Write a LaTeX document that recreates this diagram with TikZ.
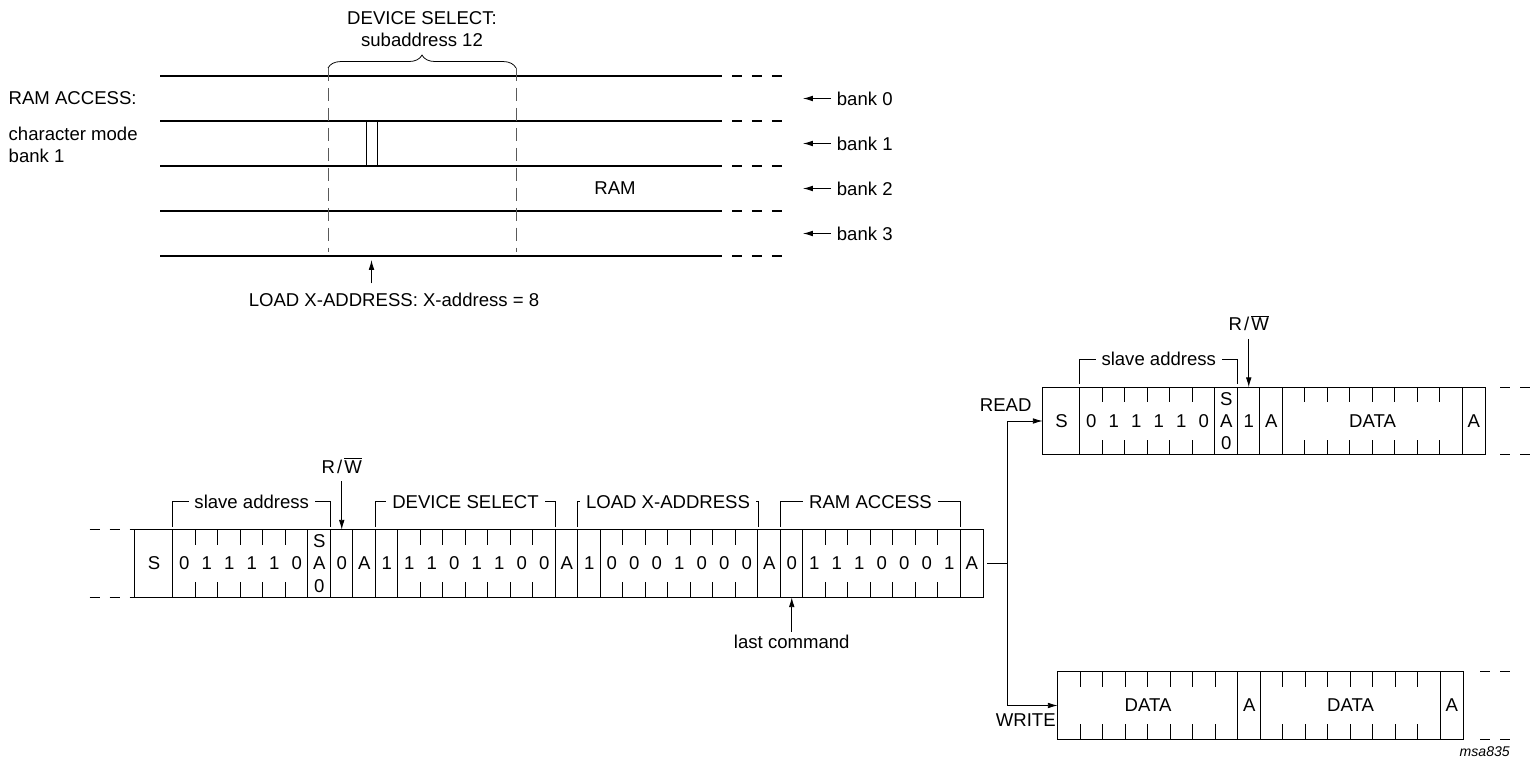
\documentclass[tikz,border=0pt]{standalone}
\usepackage{fontspec}
\setmainfont{Liberation Sans}
\usetikzlibrary{
  arrows.meta,
  positioning,
  calc,
  decorations.pathreplacing
}
\tikzset{
  lbl/.style={inner sep=1pt,font=\fontsize{13.2}{15.8}\selectfont,align=center},
  bitcell/.style={lbl,inner sep=0pt,minimum width=22.5*0.025cm,minimum height=67*0.025cm},
  startcell/.style={bitcell,minimum width=38*0.025cm},
  ramline/.style={line width=2pt},
  ramdash/.style={line width=2pt,dash pattern=on 7.1pt off 7.1pt},
  guide/.style={line width=0.5pt,draw=black!65,dash pattern=on 9.2pt off 5pt},
  frameline/.style={line width=0.75pt},
  framedash/.style={line width=0.75pt,dash pattern=on 7.1pt off 7.1pt},
  ptr/.style={-{Latex[length=7pt,width=4pt]},line width=0.6pt},
  bracket/.style={line width=0.55pt}
}

\begin{document}
\begin{tikzpicture}[x=0.025cm,y=-0.025cm]
\useasboundingbox (0,0) rectangle (1533,762);

% RAM banks
\foreach \r in {0,...,4}{
  \coordinate (L\r) at (160,76+45*\r);
  \coordinate (R\r) at (722,76+45*\r);
  \draw[ramline] (L\r) -- (R\r);
  \draw[ramdash] ($(R\r)+(10,0)$) -- ++(51,0);
}
\foreach \r in {0,...,3}{
  \node[lbl,inner sep=4pt,anchor=west] (bank\r) at (831,98.5+45*\r) {bank \r};
  \draw[ptr] (bank\r.west) -- ++(-28,0);
}
\node[lbl] (ram) at (615,188.5) {RAM};
\node[lbl,anchor=west] (acc) at (7,98.5) {RAM ACCESS:};
\node[lbl,anchor=west,align=left] (mode) at (7,145) {character mode\\bank 1};
\node[draw,line width=0.6pt,inner sep=0pt,minimum width=11*0.025cm,minimum height=45*0.025cm] (col8) at (371.5,143.5) {};

% device select window
\coordinate (g0) at (328,68);
\coordinate (g1) at (516,68);
\draw[guide] (g0) -- ($(g0 |- L4)+(0,-4)$);
\draw[guide] (g1) -- ($(g1 |- L4)+(0,-4)$);
\draw[bracket,decorate,decoration={brace,amplitude=9.2pt}] (g0) -- (g1);
\node[lbl] (dsel) at (422,29.5) {DEVICE SELECT:\\subaddress 12};
\node[lbl] (ldx) at (394,300) {LOAD X-ADDRESS: X-address = 8};
\draw[ptr] ($(ldx.north -| col8)+(0,-8)$) -- ($(col8 |- L4)+(0,4)$);

% command sequence
\node[startcell] (cS) at (154,563.5) {S};
\foreach \bit [count=\k from 0] in {0,1,1,1,1,0,{S\\A\\0},0,A,1,1,1,0,1,1,0,0,A,1,0,0,0,1,0,0,0,A,0,1,1,1,0,0,0,1,A}
  \node[bitcell] (c\k) at (184.25+22.5*\k,563.5) {\bit};
\draw[frameline] (cS.north west) rectangle (c35.south east);
\foreach \k in {0,6,7,8,9,10,17,18,19,26,27,28,35}
  \draw[frameline] (c\k.north west) -- (c\k.south west);
\foreach \k in {1,2,3,4,5,11,12,13,14,15,16,20,21,22,23,24,25,29,30,31,32,33,34}
  \draw[frameline] (c\k.north west) -- ++(0,15) (c\k.south west) -- ++(0,-15);
\draw[framedash] ($(cS.north west)+(-45,0)$) -- (cS.north west);
\draw[framedash] ($(cS.south west)+(-45,0)$) -- (cS.south west);
\foreach \a/\b/\txt/\nm in {0/6/slave address/slv,9/16/DEVICE SELECT/dsb,18/25/LOAD X-ADDRESS/ldb,27/34/RAM ACCESS/rab}{
  \node[lbl,inner sep=4pt] (\nm) at ($(c\a.north west)!0.5!(c\b.north east)+(0,-28)$) {\txt};
  \draw[bracket] ($(c\a.north west)+(0,-3)$) |- (\nm.west);
  \draw[bracket] ($(c\b.north east)+(0,-3)$) |- (\nm.east);
}
\node[lbl] (rw1) at ($(c7.north)+(0,-64)$) {R\kern1.5pt/\kern1.5pt$\overline{\hbox{W}}$};
\draw[ptr] ($(rw1.south)+(0,6)$) -- (c7.north);
\node[lbl] (lastc) at ($(c27.south)+(0,45)$) {last command};
\draw[ptr] ($(lastc.north)+(0,-2)$) -- (c27.south);

% read sequence
\node[startcell,minimum width=37*0.025cm] (rS) at (1061.5,421) {S};
\foreach \bit [count=\k from 0] in {0,1,1,1,1,0,{S\\A\\0},1,A,{},{},{},{},{},{},{},{},A}
  \node[bitcell] (r\k) at (1091.25+22.5*\k,421) {\bit};
\node[lbl] (rdata) at ($(r9)!0.5!(r16)$) {DATA};
\draw[frameline] (rS.north west) rectangle (r17.south east);
\foreach \k in {0,6,7,8,9,17}
  \draw[frameline] (r\k.north west) -- (r\k.south west);
\foreach \k in {1,2,3,4,5,10,11,12,13,14,15,16}
  \draw[frameline] (r\k.north west) -- ++(0,15) (r\k.south west) -- ++(0,-15);
\draw[framedash] ($(r17.north east)+(15,0)$) -- ++(33,0);
\draw[framedash] ($(r17.south east)+(15,0)$) -- ++(33,0);
\node[lbl,inner sep=4pt] (slv2) at ($(r0.north west)!0.5!(r6.north east)+(0,-28)$) {slave address};
\draw[bracket] ($(r0.north west)+(0,-3)$) |- (slv2.west);
\draw[bracket] ($(r6.north east)+(0,-3)$) |- (slv2.east);
\node[lbl] (rw2) at ($(r7.north)+(0,-64)$) {R\kern1.5pt/\kern1.5pt$\overline{\hbox{W}}$};
\draw[ptr] ($(rw2.south)+(0,6)$) -- (r7.north);

% write sequence
\foreach \bit [count=\k from 0] in {{},{},{},{},{},{},{},{},A,{},{},{},{},{},{},{},{},A}
  \node[bitcell] (w\k) at (1069.25+22.5*\k,705.5) {\bit};
\node[lbl] (wdata1) at ($(w0)!0.5!(w7)$) {DATA};
\node[lbl] (wdata2) at ($(w9)!0.5!(w16)$) {DATA};
\draw[frameline] (w0.north west) rectangle (w17.south east);
\foreach \k in {8,9,17}
  \draw[frameline] (w\k.north west) -- (w\k.south west);
\foreach \k in {1,2,3,4,5,6,7,10,11,12,13,14,15,16}
  \draw[frameline] (w\k.north west) -- ++(0,15) (w\k.south west) -- ++(0,-15);
\draw[framedash] ($(w17.north east)+(17,0)$) -- ++(30,0);
\draw[framedash] ($(w17.south east)+(17,0)$) -- ++(30,0);

% branch
\coordinate (fork) at ($(c35.east)+(24,0)$);
\draw[line width=0.6pt] ($(c35.east)+(4,0)$) -- (fork);
\draw[ptr] (fork) |- (rS.west);
\draw[ptr] (fork) |- (w0.west);
\node[lbl] (rdlbl) at ($(rS.west)+(-37,-16)$) {READ};
\node[lbl] (wrlbl) at ($(w0.west)+(-32,14.5)$) {WRITE};

\node[inner sep=0pt,anchor=east,font=\fontsize{10}{11}\selectfont\itshape] (code) at (1510,752) {msa835};
\end{tikzpicture}
\end{document}
